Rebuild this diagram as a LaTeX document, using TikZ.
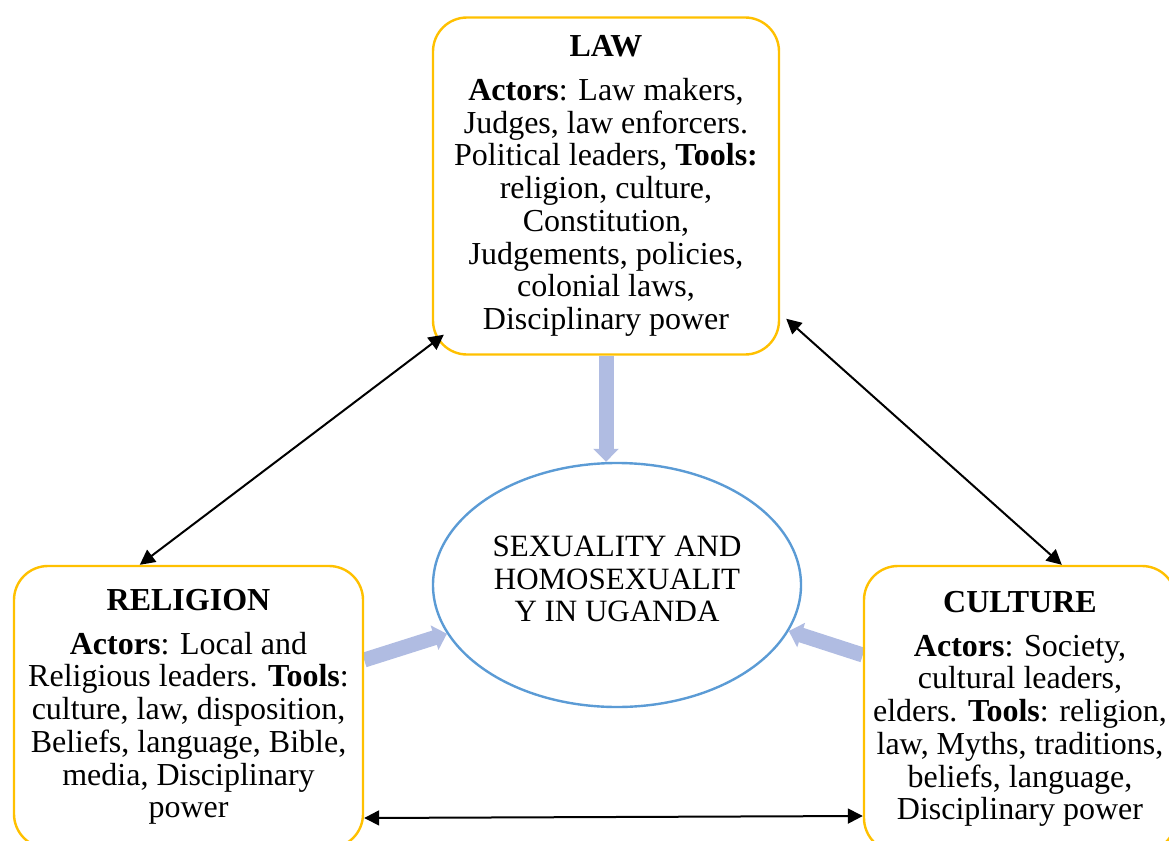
\documentclass[tikz,border=0pt]{standalone}
\usepackage{fontspec}
\setmainfont{Liberation Serif}
\usetikzlibrary{shapes.geometric,arrows.meta}
\definecolor{boxgold}{RGB}{255,192,0}
\definecolor{ringblue}{RGB}{91,155,213}
\definecolor{flowblue}{RGB}{176,188,226}
\pgfdeclarelayer{back}
\pgfsetlayers{back,main}
\begin{document}
\begin{tikzpicture}[x=1pt,y=-1pt]
                \tikzstyle{every node}+=[inner sep=0pt, font=\fontsize{32}{32.7}\selectfont]
                \tikzstyle{box}=[draw=boxgold, line width=2.4pt, rounded corners=34pt, align=center]
                \tikzstyle{flow}=[draw=flowblue, line width=15pt, -{Triangle[length=13pt,width=25pt]}]
                \tikzstyle{link}=[black, line width=2pt, {Triangle[length=15pt,width=15pt]}-{Triangle[length=15pt,width=15pt]}]
                \useasboundingbox (0,0) rectangle (1169,840);
                \clip (0,0) rectangle (1169,840);
                % the three boxes
                \node[box, minimum width=346pt, minimum height=337pt] (law) at (606,186) {\textbf{LAW}\\[11pt]\textbf{Actors}: Law makers,\\Judges, law enforcers.\\Political leaders, \textbf{Tools:}\\religion, culture,\\Constitution,\\Judgements, policies,\\colonial laws,\\Disciplinary power};
                \node[box, minimum width=349pt, minimum height=282pt] (relig) at (188.5,707) {\textbf{RELIGION}\\[11pt]\textbf{Actors}: Local and\\Religious leaders. \textbf{Tools}:\\culture, law, disposition,\\Beliefs, language, Bible,\\media, Disciplinary\\power};
                \node[box, minimum width=312pt, minimum height=286pt] (cult) at (1020,709) {\textbf{CULTURE}\\[11pt]\textbf{Actors}: Society,\\cultural leaders,\\elders. \textbf{Tools}: religion,\\law, Myths, traditions,\\beliefs, language,\\Disciplinary power};
                % the centre
                \node[draw=ringblue, line width=2.4pt, ellipse, minimum width=368pt, minimum height=244pt, align=center, text depth=12pt, font=\fontsize{31}{32.5}\selectfont] (sex) at (617,585) {SEXUALITY AND\\HOMOSEXUALIT\\Y IN UGANDA};
                \begin{pgfonlayer}{back}
                \draw[flow] (law.south) -- (law.south |- sex.north);
                \draw[flow] ([yshift=47pt]relig.east) -- (sex.196);
                \draw[flow] ([yshift=54pt]cult.west) -- (sex.345);
                \end{pgfonlayer}
                % links between boxes
                \draw[link] ([xshift=12pt,yshift=21pt]law.south west) -- ([xshift=127pt]relig.north west);
                \draw[link] ([xshift=6pt,yshift=37pt]law.south east) -- ([xshift=199pt]cult.north west);
                \draw[link] ([yshift=-111pt]relig.east) -- ([yshift=-107pt]cult.west);
\end{tikzpicture}
\end{document}
